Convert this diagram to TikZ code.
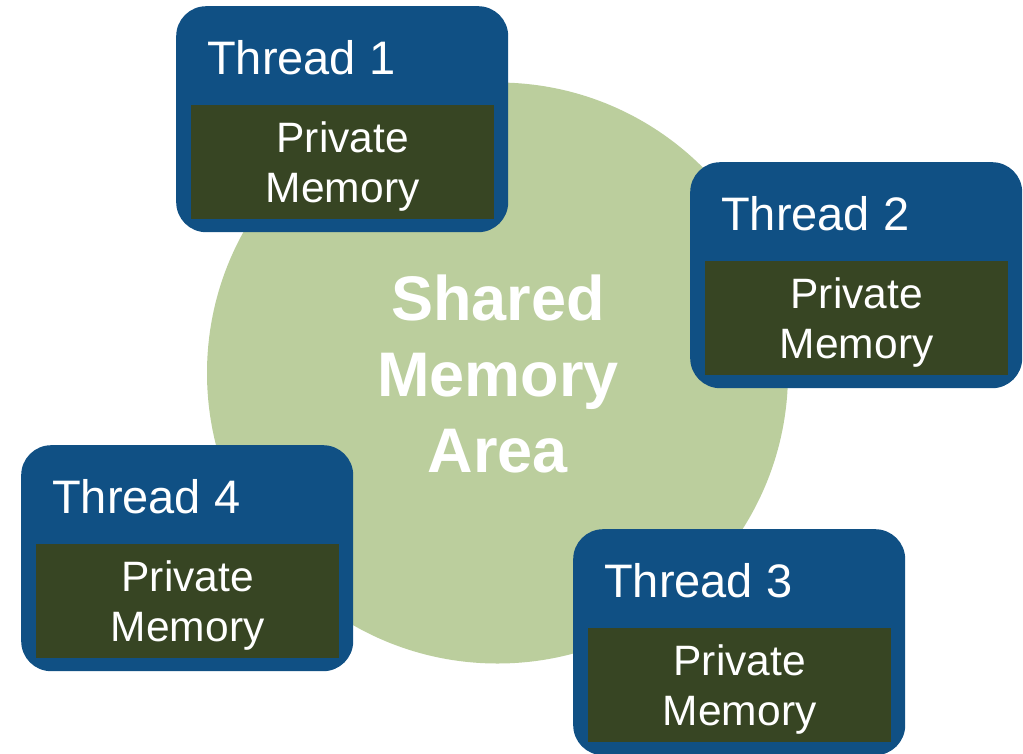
\documentclass[tikz,border=0pt]{standalone}
\usepackage{fontspec}
\setmainfont{Liberation Sans}
\definecolor{tblue}{RGB}{16,80,132}
\definecolor{pgreen}{RGB}{55,69,35}
\definecolor{cgreen}{RGB}{187,206,157}
\tikzset{
  tbox/.style={fill=tblue, rounded corners=30pt, minimum width=332pt, minimum height=226pt, anchor=north west, inner sep=0pt},
  pbox/.style={fill=pgreen, minimum width=303pt, minimum height=114pt, anchor=north west, inner sep=0pt},
  tlabel/.style={text=white, inner sep=0pt, anchor=base west, font=\fontsize{47}{56}\selectfont},
  plabel/.style={text=white, inner sep=0pt, anchor=north, align=center, font=\fontsize{42.5}{50}\selectfont},
  shlabel/.style={text=white, inner sep=0pt, anchor=north, align=center, font=\bfseries\fontsize{63}{76}\selectfont}
}
\newcommand\threadbox[4]{%
  \node[tbox] (t#1) at (#2,#3) {};
  \node[tlabel] (l#1) at (#2+31,#3+68) {Thread #4};
  \node[pbox] (p#1) at (#2+15,#3+99) {};
  \node[plabel] (m#1) at ([yshift=-16.6pt]p#1.north) {Private\\Memory};
}
\begin{document}
\begin{tikzpicture}[x=1pt,y=-1pt]
\useasboundingbox (0,0) rectangle (1023,753);
\fill[cgreen] (497.5,373) circle[radius=290.5pt];
\node[shlabel] (sh) at (498,275) {Shared\\Memory\\Area};
\threadbox{a}{176}{6}{1}
\threadbox{b}{690}{162}{2}
\threadbox{c}{573}{529}{3}
\threadbox{d}{21}{445}{4}
\end{tikzpicture}
\end{document}
